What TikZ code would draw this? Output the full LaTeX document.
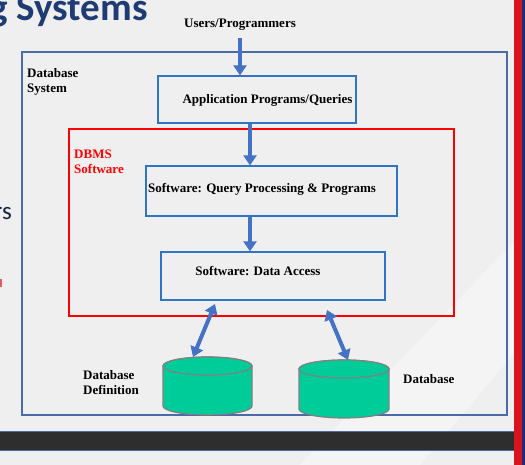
\documentclass[tikz,border=0pt]{standalone}
\usepackage{fontspec}
\setmainfont{Liberation Serif}
\newfontfamily\slidefont{Carlito}
\usetikzlibrary{arrows.meta}
\definecolor{bgcol}{HTML}{EFEFEF}
\definecolor{outerblue}{HTML}{4A6AA8}
\definecolor{boxblue}{HTML}{2E75C6}
\definecolor{arrowblue}{HTML}{4472C4}
\definecolor{cylfill}{HTML}{00CC99}
\definecolor{cylline}{HTML}{808080}
\definecolor{titleblue}{HTML}{1F3B73}
\definecolor{barcol}{HTML}{2E2E2E}
\definecolor{stripered}{HTML}{D9141E}
\definecolor{stripeblue}{HTML}{1F2C7A}
\begin{document}
\begin{tikzpicture}[x=1pt,y=-1pt,
  lbl/.style={font=\bfseries\fontsize{13}{15}\selectfont, text=black, inner sep=0pt, align=left},
  procbox/.style={draw=boxblue, line width=1.3pt, fill=none, inner sep=0pt},
  flowarrow/.style={draw=arrowblue, line width=4pt, -{Triangle[width=13pt,length=10pt]}},
  dblarrow/.style={draw=arrowblue, line width=4pt, {Triangle[width=13pt,length=10pt]}-{Triangle[width=13pt,length=10pt]}},
  cyl/.style={fill=cylfill, draw=cylline, line width=1.2pt}
]
\useasboundingbox (0,0) rectangle (525,465);
\begin{scope}
\clip (0,0) rectangle (525,465);
\fill[bgcol] (0,0) rectangle (525,465);
\fill[white, opacity=0.35] (300,465) -- (420,465) -- (525,340) -- (525,230) -- cycle;
% slide fragments
\node[anchor=base east, inner sep=0pt, text=titleblue, font=\slidefont\bfseries\fontsize{39}{42}\selectfont] (title) at (148,21) {g Systems};
\node[anchor=base east, inner sep=0pt, text=titleblue!60!black, font=\slidefont\fontsize{25}{28}\selectfont] (frag) at (12,220) {rs};
\fill[stripered!70] (0,279) rectangle (2,287);
% bottom bar
\fill[barcol] (0,431) rectangle (525,450);
\draw[outerblue, line width=0.6pt] (0,431) -- (525,431);
\draw[outerblue, line width=0.6pt] (0,450) -- (525,450);
% right stripes
\fill[stripered] (514,0) rectangle (522,465);
\fill[stripeblue] (522,0) rectangle (525,465);
\end{scope}

% outer system box
\node[draw=outerblue, line width=1.2pt, minimum width=485pt, minimum height=363pt, inner sep=0pt] (sys) at (264.5,233.5) {};
\node[draw=red, line width=1.2pt, minimum width=385pt, minimum height=187pt, inner sep=0pt] (dbms) at (261.5,222.5) {};

\node[lbl, anchor=north west] (systxt) at (27,68) {Database\\System};
\node[lbl, anchor=north west, text=red] (dbmstxt) at (74,150) {DBMS\\Software};

\node[lbl, anchor=base] (users) at (240,28) {Users/Programmers};

\node[procbox, minimum width=198pt, minimum height=47pt] (app) at (257,99.5) {};
\node[lbl, anchor=base] (apptxt) at (267.5,104) {Application Programs/Queries};

\node[procbox, minimum width=251pt, minimum height=50pt] (query) at (271.5,191) {};
\node[lbl, anchor=base] (querytxt) at (262,193) {Software: Query Processing \& Programs};

\node[procbox, minimum width=224pt, minimum height=48pt] (access) at (273,276) {};
\node[lbl, anchor=base] (accesstxt) at (258,276) {Software: Data Access};

% arrows
\coordinate (uarr) at (240,38);
\draw[flowarrow] (uarr) -- ([xshift=-17pt]app.north);
\draw[flowarrow] ([xshift=-7pt]app.south) -- ([xshift=-21.5pt]query.north);
\draw[flowarrow] ([xshift=-21.5pt]query.south) -- ([xshift=-23pt]access.north);

% cylinders
\coordinate (c1) at (207.5,366);
\coordinate (c2) at (344,369);
\path[cyl] (163,366) -- (163,406) arc[start angle=180, end angle=0, x radius=44.5, y radius=9] -- (252,366) arc[start angle=0, end angle=-180, x radius=44.5, y radius=9] -- cycle;
\draw[cyl] (c1) ellipse[x radius=44.5, y radius=9];
\path[cyl] (299,369) -- (299,409) arc[start angle=180, end angle=0, x radius=45, y radius=9] -- (389,369) arc[start angle=0, end angle=-180, x radius=45, y radius=9] -- cycle;
\draw[cyl] (c2) ellipse[x radius=45, y radius=9];

\coordinate (a1top) at (215,304);
\coordinate (a1bot) at (193,357);
\coordinate (a2top) at (327,310);
\coordinate (a2bot) at (348,360);
\draw[dblarrow] (a1top) -- (a1bot);
\draw[dblarrow] (a2top) -- (a2bot);

\node[lbl, anchor=north west] (defn) at (83,370) {Database\\Definition};
\node[lbl, anchor=base west] (dbtxt) at (403,383) {Database};
\end{tikzpicture}
\end{document}
